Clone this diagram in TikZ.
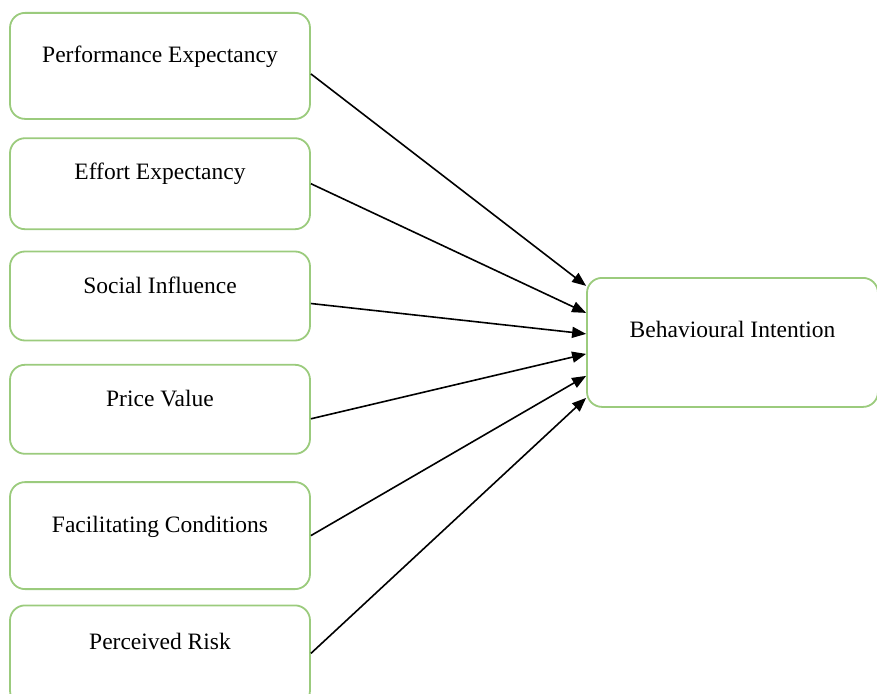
\documentclass[tikz,border=0pt]{standalone}
\usepackage{fontspec}
\setmainfont{Liberation Serif}
\usetikzlibrary{arrows.meta, positioning}
\definecolor{boxgreen}{RGB}{155,203,125}
\tikzstyle{factor}=[draw=boxgreen, line width=1.8pt, rounded corners=15pt, minimum width=300pt, inner ysep=0pt, font=\fontsize{23.5}{28}\selectfont]
\tikzstyle{link}=[-{Triangle[length=14pt,width=11pt]}, line width=1.6pt]

\begin{document}
\begin{tikzpicture}[x=1pt, y=-1pt]
  \clip (0,0) rectangle (877,693);
  \node[factor, anchor=north, text height=50pt, text depth=56pt] (pe) at (160,12) {Performance Expectancy};
  \node[factor, text height=41pt, text depth=50pt] (ee) [below=17.5pt of pe] {Effort Expectancy};
  \node[factor, text height=42pt, text depth=47pt] (si) [below=20.5pt of ee] {Social Influence};
  \node[factor, text height=42pt, text depth=47pt] (pv) [below=22.5pt of si] {Price Value};
  \node[factor, text height=50pt, text depth=57pt] (fc) [below=26.5pt of pv] {Facilitating Conditions};
  \node[factor, text height=44pt, text depth=56pt] (pr) [below=14.5pt of fc] {Perceived Risk};
  \node[factor, anchor=north, minimum width=291pt, text height=60pt, text depth=69pt] (bi) at (732.5,277) {Behavioural Intention};
  % factors -> intention
  \draw[link] ([yshift=-8pt]pe.east)   -- ([yshift=56.5pt]bi.west);
  \draw[link] (ee.east)                -- ([yshift=29.5pt]bi.west);
  \draw[link] ([yshift=-7.5pt]si.east) -- ([yshift=8.5pt]bi.west);
  \draw[link] ([yshift=-9.5pt]pv.east) -- ([yshift=-11.5pt]bi.west);
  \draw[link] (fc.east)                -- ([yshift=-33.5pt]bi.west);
  \draw[link] ([yshift=2pt]pr.east)    -- ([yshift=-55.5pt]bi.west);
\end{tikzpicture}
\end{document}
